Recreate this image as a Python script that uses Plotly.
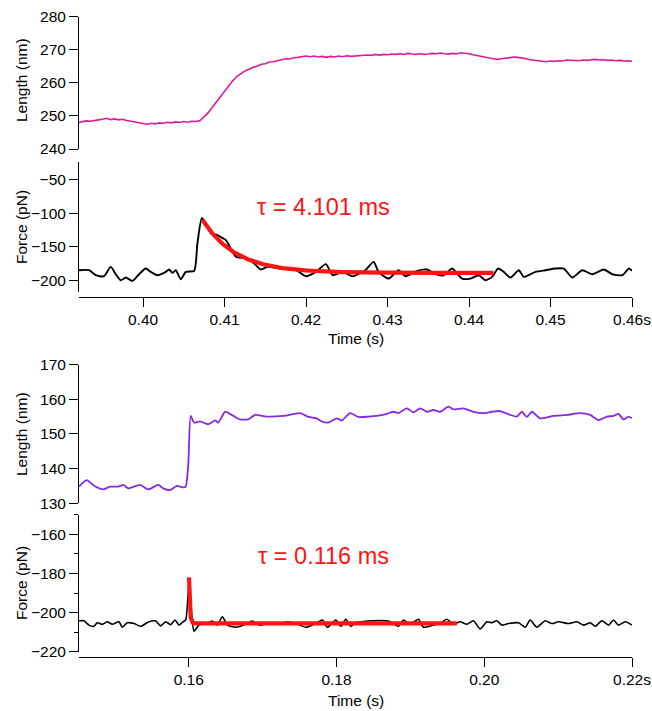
import numpy as np
import plotly.graph_objects as go

# ---------------- data ----------------
# Upper recording: bead length trace, sampled every 0.5 ms
length1_t0 = 0.392
length1_step = 0.0005
length1_nm = [
    248.0, 248.3, 248.5, 248.4, 248.7, 248.8, 249.0, 249.3, 248.9, 249.1,
    248.8, 249.0, 248.6, 248.4, 248.2, 247.9, 247.7, 247.5, 247.8, 247.6,
    247.9, 247.8, 248.1, 247.9, 248.2, 248.0, 248.3, 248.1, 248.4, 248.3,
    248.6, 249.8, 251.0, 252.6, 254.2, 255.9, 257.6, 259.2, 260.6, 261.9,
    262.8, 263.6, 264.1, 264.7, 265.0, 265.6, 265.8, 266.3, 266.4, 266.7,
    266.9, 267.3, 267.2, 267.6, 267.7, 267.9, 268.1, 267.9, 268.1, 267.8,
    268.0, 267.7, 268.0, 267.8, 268.1, 267.9, 268.2, 268.0, 268.1, 268.3,
    268.2, 268.4, 268.3, 268.6, 268.4, 268.6, 268.5, 268.7, 268.6, 268.8,
    268.6, 268.9, 268.7, 268.6, 268.8, 268.6, 268.7, 268.9, 268.8, 269.0,
    268.8, 268.7, 268.9, 268.8, 269.1, 269.0, 268.8, 268.5, 268.2, 268.0,
    267.7, 267.5, 267.3, 267.1, 267.3, 267.5, 267.6, 267.8, 267.7, 267.6,
    267.3, 267.0, 266.8, 266.6, 266.5, 266.4, 266.6, 266.5, 266.7, 266.6,
    266.9, 266.8, 266.6, 266.7, 266.9, 266.8, 267.0, 267.1, 266.9, 267.0,
    266.8, 266.9, 266.7, 266.8, 266.6, 266.7, 266.5,
]

# Upper recording: force trace
force1_t = [
    0.39214, 0.39337, 0.39419, 0.39521, 0.39603, 0.39665, 0.39726, 0.39787, 0.39869, 0.39951,
    0.40033, 0.40095, 0.40176, 0.40279, 0.40319, 0.40360, 0.40402, 0.40463, 0.40525, 0.40627,
    0.40667, 0.40721, 0.40770, 0.40832, 0.40913, 0.40983, 0.41016, 0.41077, 0.41139, 0.41262,
    0.41364, 0.41446, 0.41527, 0.41671, 0.41876, 0.41999, 0.42122, 0.42244, 0.42326, 0.42448,
    0.42571, 0.42727, 0.42829, 0.42891, 0.43014, 0.43136, 0.43219, 0.43362, 0.43485, 0.43587,
    0.43689, 0.43792, 0.43915, 0.44017, 0.44119, 0.44201, 0.44284, 0.44357, 0.44426, 0.44509,
    0.44611, 0.44672, 0.44816, 0.44939, 0.45061, 0.45163, 0.45267, 0.45389, 0.45512, 0.45655,
    0.45758, 0.45881, 0.45962, 0.46000,
]
force1_pN = [
    -185, -185, -192.5, -194, -180, -191, -200, -196, -201, -191,
    -182.5, -187.5, -192.5, -187.5, -184, -189, -185, -198.5, -187.5, -186,
    -145, -107.5, -115, -130, -132.5, -137.5, -140, -152.5, -165, -167.5,
    -175, -184, -180, -182.5, -185, -194, -187.5, -176, -192.5, -187.5,
    -194, -185, -172.5, -187.5, -197.5, -185, -194, -186, -184, -191,
    -192.5, -182.5, -197.5, -197.5, -192.5, -200, -195, -182.5, -187.5, -196,
    -185, -195, -187.5, -185, -182.5, -182.5, -196, -185, -191, -184,
    -191, -192.5, -182.5, -186,
]

# Upper recording: single-exponential relaxation fit
fit1_tau_ms = 4.101
fit1_start = 0.4073
fit1_end = 0.4430
fit1_amp = 79.0
fit1_base = -189.0

# Lower recording: bead length trace
length2_t = [
    0.14515, 0.14619, 0.14731, 0.14844, 0.14934, 0.15047, 0.15114, 0.15182, 0.15341, 0.15453,
    0.15588, 0.15656, 0.15747, 0.15838, 0.15927, 0.15959, 0.15995, 0.16027, 0.16072, 0.16153,
    0.16265, 0.16356, 0.16401, 0.16492, 0.16604, 0.16695, 0.16807, 0.16898, 0.17056, 0.17281,
    0.17507, 0.17620, 0.17733, 0.17801, 0.17890, 0.18004, 0.18072, 0.18184, 0.18297, 0.18432,
    0.18546, 0.18681, 0.18771, 0.18838, 0.18952, 0.19041, 0.19132, 0.19223, 0.19312, 0.19403,
    0.19515, 0.19583, 0.19718, 0.19854, 0.19989, 0.20103, 0.20215, 0.20351, 0.20441, 0.20509,
    0.20577, 0.20645, 0.20757, 0.20937, 0.21119, 0.21299, 0.21434, 0.21546, 0.21660, 0.21750,
    0.21817, 0.21885, 0.21953, 0.22000,
]
length2_nm = [
    134.8, 136.7, 134.9, 134.0, 134.8, 134.8, 135.3, 134.3, 135.3, 134.0,
    135.3, 134.3, 133.8, 135.0, 134.6, 134.8, 141.5, 155.2, 153.3, 153.6,
    152.8, 153.9, 153.3, 156.4, 155.2, 154.2, 154.2, 155.5, 155.0, 155.2,
    156.0, 154.9, 154.5, 153.6, 153.3, 154.5, 153.9, 156.0, 154.9, 155.0,
    155.2, 155.8, 156.4, 156.0, 157.4, 156.2, 157.4, 156.4, 156.9, 156.4,
    157.9, 157.1, 157.4, 156.4, 156.0, 156.4, 156.6, 155.5, 155.0, 156.4,
    154.9, 156.4, 154.5, 155.2, 155.5, 156.0, 155.5, 154.0, 155.0, 155.2,
    155.8, 154.2, 155.0, 154.5,
]

# Lower recording: force trace
force2_t = [
    0.14515, 0.14582, 0.14650, 0.14718, 0.14762, 0.14830, 0.14898, 0.14965, 0.15056, 0.15101,
    0.15169, 0.15259, 0.15350, 0.15462, 0.15553, 0.15621, 0.15689, 0.15756, 0.15814, 0.15869,
    0.15923, 0.15959, 0.16004, 0.16041, 0.16072, 0.16139, 0.16230, 0.16320, 0.16387, 0.16455,
    0.16523, 0.16636, 0.16772, 0.16861, 0.16952, 0.17087, 0.17223, 0.17335, 0.17449, 0.17584,
    0.17720, 0.17809, 0.17877, 0.17991, 0.18058, 0.18126, 0.18194, 0.18252, 0.18478, 0.18703,
    0.18838, 0.18906, 0.18997, 0.19109, 0.19177, 0.19312, 0.19403, 0.19494, 0.19583, 0.19674,
    0.19764, 0.19854, 0.19945, 0.20035, 0.20103, 0.20171, 0.20238, 0.20328, 0.20463, 0.20554,
    0.20622, 0.20712, 0.20825, 0.20915, 0.21005, 0.21140, 0.21254, 0.21343, 0.21434, 0.21502,
    0.21592, 0.21682, 0.21750, 0.21817, 0.21908, 0.22000,
]
force2_pN = [
    -204.2, -204.2, -206.4, -207.0, -205.2, -206.0, -204.7, -206.0, -204.7, -207.5,
    -205.2, -205.6, -207.0, -204.7, -204.3, -206.8, -204.7, -206.2, -203.8, -206.4,
    -204.7, -203.8, -185.0, -201.3, -209.5, -206.4, -205.6, -204.3, -206.4, -202.1,
    -206.4, -207.5, -206.0, -204.3, -206.4, -205.6, -206.0, -204.7, -205.6, -207.5,
    -205.6, -203.8, -207.5, -203.8, -207.0, -203.4, -207.0, -205.2, -204.2, -204.3,
    -207.0, -203.8, -206.0, -203.4, -207.5, -206.4, -205.6, -203.4, -206.0, -204.7,
    -206.0, -204.2, -208.4, -204.7, -205.2, -204.2, -206.4, -205.6, -205.2, -207.5,
    -203.8, -207.5, -204.2, -205.6, -204.7, -205.6, -204.7, -206.4, -205.2, -207.0,
    -204.2, -206.4, -203.8, -206.4, -204.7, -206.4,
]

# Lower recording: single-exponential relaxation fit
fit2_tau_ms = 0.116
fit2_start = 0.16004
fit2_end = 0.1963
fit2_amp = 23.5
fit2_base = -205.5

# Axis ticks
x1_ticks = [0.40, 0.41, 0.42, 0.43, 0.44, 0.45, 0.46]
x1_labels = ["0.40", "0.41", "0.42", "0.43", "0.44", "0.45", "0.46s"]
x2_ticks = [0.16, 0.18, 0.20, 0.22]
x2_labels = ["0.16", "0.18", "0.20", "0.22s"]

# ---------------- styling ----------------
W, H = 652, 711
FONT = "Liberation Sans, Arial, Helvetica, sans-serif"
TICK_FONT = dict(family=FONT, size=15.5, color="black")
MAGENTA = "#df1a9a"
VIOLET = "#8429e4"
RED = "#ff1414"


def fx(p):
    return p / W


def fy(p):
    return 1 - p / H


def exp_fit(t_start, t_end, tau_ms, amp, base):
    # dense near the start so fast decays keep their shape
    t = np.unique(np.concatenate([
        t_start + np.linspace(0, 8 * tau_ms * 1e-3, 200),
        np.linspace(t_start, t_end, 400),
    ]))
    t = t[t <= t_end]
    return t, base + amp * np.exp(-(t - t_start) / (tau_ms * 1e-3))


fig = go.Figure()

# upper recording
t_len1 = length1_t0 + length1_step * np.arange(len(length1_nm))
fig.add_trace(go.Scatter(x=t_len1, y=length1_nm, mode="lines", xaxis="x", yaxis="y",
                         line=dict(color=MAGENTA, width=1.6)))
fig.add_trace(go.Scatter(x=force1_t, y=force1_pN, mode="lines", xaxis="x", yaxis="y2",
                         line=dict(color="black", width=1.9, shape="spline", smoothing=0.6)))
ft1, ff1 = exp_fit(fit1_start, fit1_end, fit1_tau_ms, fit1_amp, fit1_base)
fig.add_trace(go.Scatter(x=ft1, y=ff1, mode="lines", xaxis="x", yaxis="y2",
                         line=dict(color=RED, width=4.2)))

# lower recording
fig.add_trace(go.Scatter(x=length2_t, y=length2_nm, mode="lines", xaxis="x2", yaxis="y3",
                         line=dict(color=VIOLET, width=1.8, shape="spline", smoothing=0.6)))
fig.add_trace(go.Scatter(x=force2_t, y=force2_pN, mode="lines", xaxis="x2", yaxis="y4",
                         line=dict(color="black", width=1.6, shape="spline", smoothing=0.6)))
ft2, ff2 = exp_fit(fit2_start, fit2_end, fit2_tau_ms, fit2_amp, fit2_base)
fig.add_trace(go.Scatter(x=ft2, y=ff2, mode="lines", xaxis="x2", yaxis="y4",
                         line=dict(color=RED, width=4.2)))

x_dom = [fx(79), fx(632)]
common_axis = dict(showline=True, linecolor="black", linewidth=1, ticks="outside",
                   ticklen=9, tickwidth=1, tickcolor="black", showgrid=False,
                   zeroline=False, tickfont=TICK_FONT, automargin=False, fixedrange=True)

layout = dict(
    width=W, height=H, showlegend=False,
    margin=dict(l=0, r=0, t=0, b=0),
    paper_bgcolor="white", plot_bgcolor="white",
    font=dict(family=FONT, color="black"),
    xaxis=dict(common_axis, domain=x_dom, range=[0.39214, 0.46], anchor="free",
               position=fy(296.7), tickmode="array", tickvals=x1_ticks, ticktext=x1_labels),
    yaxis=dict(common_axis, domain=[fy(149), fy(16.7)], range=[240, 280], anchor="x",
               tick0=240, dtick=10),
    yaxis2=dict(common_axis, domain=[fy(292.3), fy(161.7)], range=[-218, -23], anchor="x",
                tick0=0, dtick=50),
    xaxis2=dict(common_axis, domain=x_dom, range=[0.14515, 0.22], anchor="free",
                position=fy(656.7), tickmode="array", tickvals=x2_ticks, ticktext=x2_labels),
    yaxis3=dict(common_axis, domain=[fy(503.3), fy(364.6)], range=[130, 170], anchor="x2",
                tick0=130, dtick=10),
    yaxis4=dict(common_axis, domain=[fy(651.7), fy(514.75)], range=[-220, -150], anchor="x2",
                tick0=-220, dtick=20,
                minor=dict(tick0=-220, dtick=10, ticks="outside", ticklen=4,
                           tickcolor="black", showgrid=False)),
)
fig.update_layout(**layout)

title_font = dict(family=FONT, size=15.5, color="black")
annots = [
    dict(text="Length (nm)", x=fx(21), y=fy(80), textangle=-90),
    dict(text="Force (pN)", x=fx(21), y=fy(227), textangle=-90),
    dict(text="Time (s)", x=fx(355.5), y=fy(338)),
    dict(text="Length (nm)", x=fx(21), y=fy(434), textangle=-90),
    dict(text="Force (pN)", x=fx(21), y=fy(583), textangle=-90),
    dict(text="Time (s)", x=fx(355.5), y=fy(700)),
]
for a in annots:
    fig.add_annotation(xref="paper", yref="paper", showarrow=False,
                       xanchor="center", yanchor="middle", font=title_font, **a)

fig.add_annotation(xref="paper", yref="paper", x=fx(323), y=fy(207), showarrow=False,
                   text=f"τ = {fit1_tau_ms:.3f} ms", font=dict(family=FONT, size=23.5, color=RED),
                   xanchor="center", yanchor="middle")
fig.add_annotation(xref="paper", yref="paper", x=fx(323), y=fy(556), showarrow=False,
                   text=f"τ = {fit2_tau_ms:.3f} ms", font=dict(family=FONT, size=23.5, color=RED),
                   xanchor="center", yanchor="middle")

fig.write_html("out.html", config=dict(displayModeBar=False))
